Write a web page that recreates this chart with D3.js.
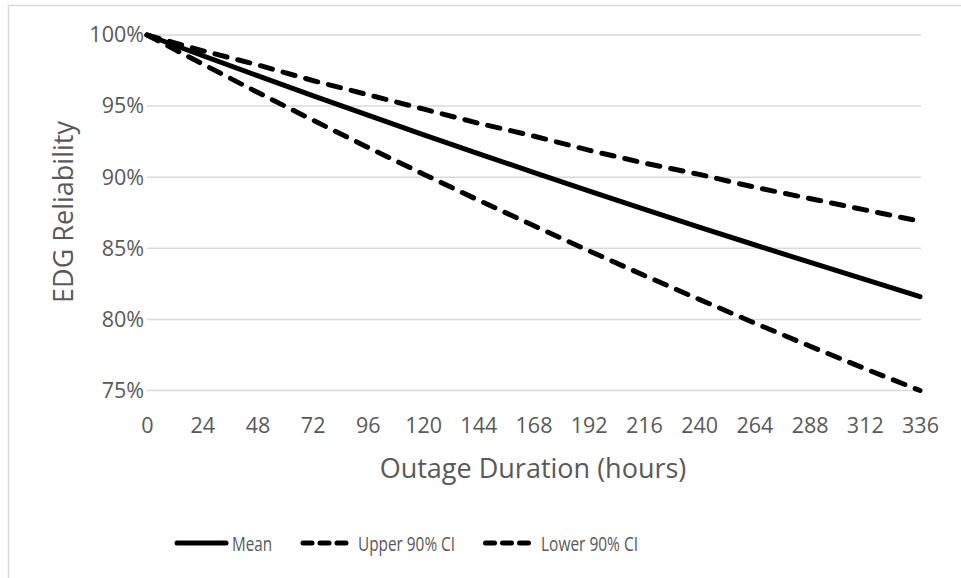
<!DOCTYPE html>
<html>
<head>
<meta charset="utf-8">
<script src="https://cdn.jsdelivr.net/npm/d3@7"></script>
<style>
  html, body { margin: 0; padding: 0; background: #ffffff; }
  svg { display: block; }
  text { font-family: "Open Sans", "DejaVu Sans", sans-serif; fill: #595959; }
</style>
</head>
<body>
<svg id="chart" width="961" height="578"></svg>
<script>
// ---- Data ----
const hours = [0, 24, 48, 72, 96, 120, 144, 168, 192, 216, 240, 264, 288, 312, 336];
const meanValues  = [100, 98.56, 97.14, 95.74, 94.36, 93.0, 91.66, 90.34, 89.04, 87.76, 86.49, 85.25, 84.02, 82.81, 81.6];
const upperValues = [100, 98.9, 97.9, 96.8, 95.8, 94.8, 93.8, 92.9, 91.9, 91.0, 90.2, 89.3, 88.5, 87.7, 86.9];
const lowerValues = [100, 97.97, 95.97, 94.02, 92.1, 90.23, 88.39, 86.6, 84.83, 83.1, 81.41, 79.75, 78.13, 76.54, 75.0];
const yTicks = [75, 80, 85, 90, 95, 100];
const seriesNames = ["Mean", "Upper 90% CI", "Lower 90% CI"];
const xTitle = "Outage Duration (hours)";
const yTitle = "EDG Reliability";

const svg = d3.select("#chart");

// chart frame
svg.append("rect")
  .attr("x", 8.5).attr("y", 5.5).attr("width", 1000).attr("height", 1000)
  .attr("fill", "none").attr("stroke", "#d9d9d9").attr("stroke-width", 1.5);

const x = d3.scaleLinear().domain([0, 336]).range([147, 920]);
const y = d3.scaleLinear().domain([75, 100]).range([390.5, 35]);

// gridlines
svg.append("g").selectAll("line").data(yTicks).join("line")
  .attr("x1", x(0)).attr("x2", x(336) + 1)
  .attr("y1", d => y(d)).attr("y2", d => y(d))
  .attr("stroke", "#d9d9d9").attr("stroke-width", 1.5);

// y axis
const yAxis = d3.axisLeft(y).tickValues(yTicks).tickSize(0).tickPadding(3)
  .tickFormat(d => d + "%");
const gy = svg.append("g").attr("transform", `translate(${x(0)},0)`).call(yAxis);
gy.select(".domain").remove();
gy.selectAll("text").style("font-size", "21.5px").attr("fill", "#595959")
  .style("font-family", '"Open Sans", sans-serif');

// x axis
const xAxis = d3.axisBottom(x).tickValues(hours).tickSize(0).tickPadding(27);
const gx = svg.append("g").attr("transform", `translate(0,${y(75)})`).call(xAxis);
gx.select(".domain").remove();
gx.selectAll("text").style("font-size", "21.5px").attr("fill", "#595959")
  .attr("dy", "0")
  .style("font-family", '"Open Sans", sans-serif');
gx.selectAll("text").attr("y", 42.5);

// axis titles
svg.append("text").attr("x", 533).attr("y", 478).attr("text-anchor", "middle")
  .style("font-size", "27px").text(xTitle);
svg.append("text").attr("transform", "translate(73,212) rotate(-90)")
  .attr("text-anchor", "middle").style("font-size", "27px").text(yTitle);

// lines
const line = d3.line().x((d, i) => x(hours[i])).y(d => y(d));
const series = [
  { name: seriesNames[0], values: meanValues, dash: null },
  { name: seriesNames[1], values: upperValues, dash: "12.5,11" },
  { name: seriesNames[2], values: lowerValues, dash: "12.5,11" }
];
svg.append("g").selectAll("path").data(series).join("path")
  .attr("d", d => line(d.values))
  .attr("fill", "none").attr("stroke", "#000")
  .attr("stroke-width", 5)
  .attr("stroke-linecap", "round").attr("stroke-linejoin", "round")
  .attr("stroke-dasharray", d => d.dash);

// legend
const legendItems = [
  { name: seriesNames[0], x1: 177, x2: 226, tx: 232, tl: 40, dash: null },
  { name: seriesNames[1], x1: 303, x2: 346, tx: 358, tl: 97, dash: "9,8" },
  { name: seriesNames[2], x1: 485.5, x2: 528.5, tx: 541, tl: 97, dash: "9,8" }
];
const lg = svg.append("g");
legendItems.forEach(it => {
  lg.append("line").attr("x1", it.x1).attr("x2", it.x2).attr("y1", 543).attr("y2", 543)
    .attr("stroke", "#000").attr("stroke-width", 5).attr("stroke-linecap", "round")
    .attr("stroke-dasharray", it.dash);
  lg.append("text").attr("x", it.tx).attr("y", 550.5)
    .style("font-size", "20px")
    .attr("textLength", it.tl).attr("lengthAdjust", "spacingAndGlyphs")
    .text(it.name);
});
</script>
</body>
</html>
